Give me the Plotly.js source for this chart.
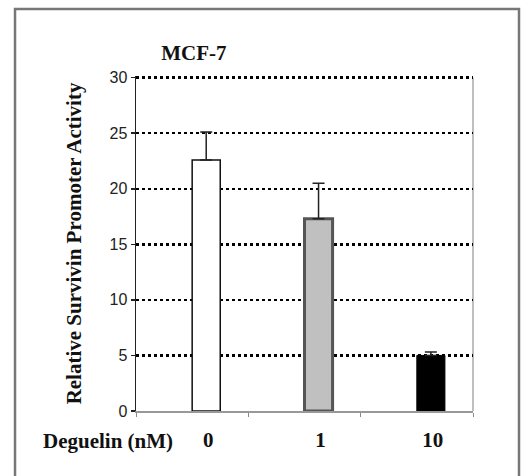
<!DOCTYPE html>
<html>
<head>
<meta charset="utf-8">
<script src="https://cdn.plot.ly/plotly-3.0.1.min.js"></script>
<style>
  html, body { margin: 0; padding: 0; background: #fff; }
  #chart { width: 522px; height: 476px; }
</style>
</head>
<body>
<div id="chart"></div>
<script>
const categories = ['0', '1', '10'];
const activity = [22.6, 17.3, 5.0];
const errorPlus = [2.5, 3.2, 0.3];
const errorMinus = [0, 0, 0];
const yTicks = [0, 5, 10, 15, 20, 25, 30];

const serif = 'Liberation Serif, Times New Roman, serif';
const sans = 'Liberation Sans, Arial, sans-serif';

const trace = {
  type: 'bar',
  x: categories,
  y: activity,
  width: 0.25,
  offset: 0,
  marker: {
    color: ['#ffffff', '#c0c0c0', '#000000'],
    line: { color: ['#111111', '#555555', '#000000'], width: [1.5, 3, 1] }
  },
  error_y: {
    type: 'data',
    symmetric: false,
    array: errorPlus,
    arrayminus: errorMinus,
    color: '#222222',
    thickness: 1.5,
    width: 6
  },
  hoverinfo: 'none'
};

const layout = {
  width: 522,
  height: 476,
  margin: { l: 136, r: 49, t: 76, b: 65 },
  paper_bgcolor: '#ffffff',
  plot_bgcolor: '#ffffff',
  showlegend: false,
  title: {
    text: '<b>MCF-7</b>',
    font: { family: serif, size: 21, color: '#111' },
    xref: 'paper',
    x: 0.172,
    xanchor: 'center',
    yref: 'container',
    y: 0.889,
    yanchor: 'middle'
  },
  xaxis: {
    type: 'category',
    showgrid: false,
    showline: true,
    linecolor: '#999999',
    linewidth: 1.5,
    ticks: 'outside',
    tickson: 'boundaries',
    ticklen: 4,
    tickcolor: '#888888',
    tickwidth: 1,
    ticklabelshift: 16,
    ticklabelstandoff: 9,
    tickfont: { family: serif, size: 21, color: '#111', weight: 'bold' },
    fixedrange: true
  },
  yaxis: {
    range: [0, 30.15],
    tickvals: yTicks,
    ticktext: yTicks.map(String),
    showgrid: true,
    gridcolor: '#000000',
    gridwidth: 2.5,
    griddash: 'dot',
    zeroline: false,
    showline: true,
    linecolor: '#222222',
    linewidth: 1.5,
    ticks: 'outside',
    ticklen: 4,
    tickcolor: '#222222',
    tickwidth: 1.5,
    tickfont: { family: sans, size: 16, color: '#222' },
    title: {
      text: '<b>Relative Survivin Promoter Activity</b>',
      font: { family: serif, size: 21, color: '#111' },
      standoff: 22
    },
    automargin: false,
    fixedrange: true
  },
  annotations: [
    {
      text: '<b>Deguelin (nM)</b>',
      xref: 'paper', yref: 'paper',
      x: -0.083, y: -0.09,
      xanchor: 'center', yanchor: 'middle',
      showarrow: false,
      font: { family: serif, size: 21, color: '#111' }
    }
  ],
  shapes: [
    {
      type: 'line', xref: 'paper', yref: 'paper',
      x0: 1, x1: 1, y0: 0, y1: 0.995,
      line: { color: '#aaaaaa', width: 1.5 },
      layer: 'below'
    },
    {
      type: 'rect', xref: 'paper', yref: 'paper',
      x0: -0.359, x1: 1.1365, y0: -0.3, y1: 1.2,
      line: { color: '#777777', width: 2.5 },
      fillcolor: 'rgba(0,0,0,0)',
      layer: 'below'
    }
  ]
};

Plotly.newPlot('chart', [trace], layout, { displayModeBar: false, staticPlot: true });
</script>
</body>
</html>
